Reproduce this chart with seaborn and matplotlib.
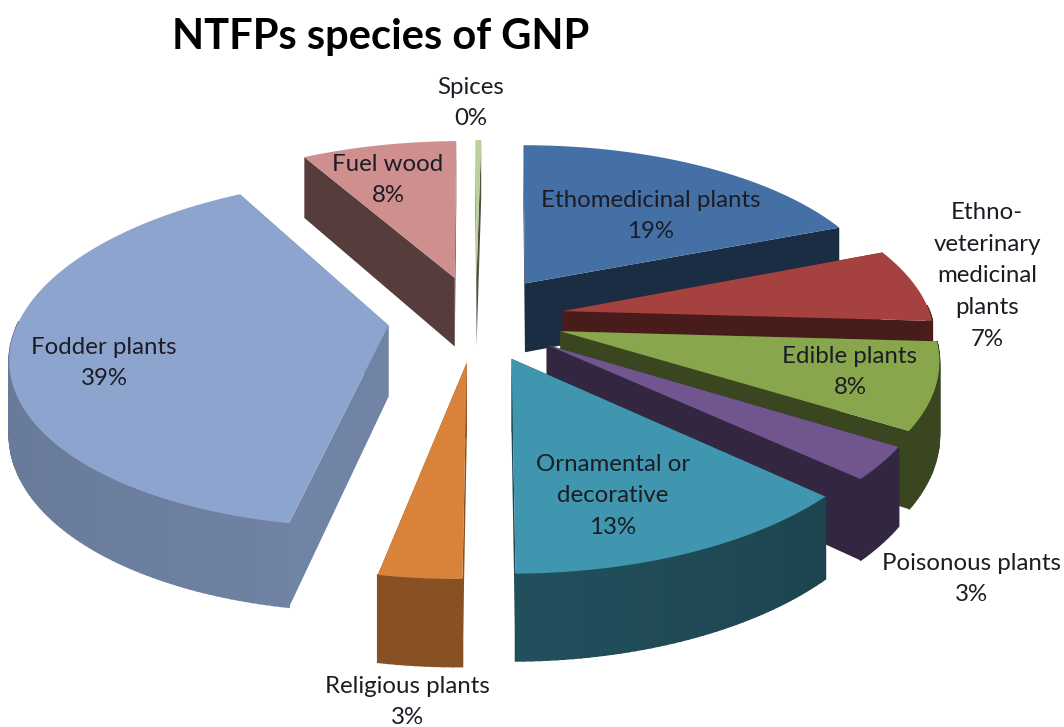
import numpy as np
import matplotlib
matplotlib.use("Agg")
import matplotlib.pyplot as plt
from matplotlib.patches import Polygon
import seaborn as sns

# Species groups, clockwise from twelve o'clock
categories = ["Ethomedicinal plants", "Ethno-\nveterinary\nmedicinal\nplants", "Edible plants",
              "Poisonous plants", "Ornamental or\ndecorative", "Religious plants",
              "Fodder plants", "Fuel wood", "Spices"]
shares = [19, 7, 8, 3, 13, 3, 39, 8, 0.3]
top_hex = ["#4470a6", "#a5423f", "#88a64c", "#70558f", "#3f96ae", "#d9833a",
           "#8da5ce", "#cf8f8e", "#bdd09a"]
title_text = "NTFPs species of GNP"

# Label anchors in canvas pixels (centre of the text block)
label_xy = [(651, 216), (987, 276), (850, 372), (972, 579), (613, 496),
            (407, 702), (104, 363), (388, 180), (471, 103)]

sns.set_theme(style="white")
plt.rcParams["font.family"] = ["Lato", "DejaVu Sans"]

W, H_PX = 1064, 727
fig = plt.figure(figsize=(W / 100, H_PX / 100), dpi=100)
ax = fig.add_axes([0, 0, 1, 1])
ax.set_xlim(0, W)
ax.set_ylim(H_PX, 0)
ax.set_axis_off()
sns.despine(ax=ax, left=True, bottom=True)

# Perspective camera over the pie's top plane; the pie sits slightly left of its axis
CAM_X, HORIZON, CAM_H, DEPTH = 513.0, -800.0, 1118.0, 2286.0
PIE_OFFSET = -37.0
RADIUS_X, RADIUS_Y, EXPLODE, THICK = 369.0, 345.0, 88.0, 71.0


def project(gx, gy, z=0.0):
    s = DEPTH / (DEPTH + gy)
    return CAM_X + (gx + PIE_OFFSET) * s, HORIZON + (CAM_H + z) * s


def shade(rgb, f):
    return tuple(min(1.0, c * f) for c in rgb)


palette = sns.color_palette(top_hex)
total = sum(shares)
edges = np.concatenate([[0.0], np.cumsum(shares)]) / total * 2 * np.pi

slices = []
for i, col in enumerate(palette):
    a0, a1 = edges[i], edges[i + 1]
    mid = 0.5 * (a0 + a1)
    slices.append((EXPLODE * np.cos(mid), i, a0, a1, mid, col))
slices.sort(key=lambda t: -t[0])  # far slices first

radial_f = [0.40, 0.43, 0.42, 0.45, 0.45, 0.62, 0.80, 0.42, 0.4]
rim_f = [0.45, 0.45, 0.42, 0.45, 0.53, 0.62, 0.80, 0.45, 0.4]
for _, i, a0, a1, mid, col in slices:
    ox, oy = EXPLODE * np.sin(mid), EXPLODE * np.cos(mid)
    n = max(3, int((a1 - a0) / np.radians(1.0)))
    ang = np.linspace(a0, a1, n)
    rimx = ox + RADIUS_X * np.sin(ang)
    rimy = oy + RADIUS_Y * np.cos(ang)

    # radial side walls
    for ex, ey in ((rimx[0], rimy[0]), (rimx[-1], rimy[-1])):
        wall = [project(ox, oy), project(ex, ey), project(ex, ey, THICK), project(ox, oy, THICK)]
        ax.add_patch(Polygon(wall, closed=True, fc=shade(col, radial_f[i]), ec="none", zorder=1))

    # curved outer wall, only the strips that face the viewer
    for k in range(n - 1):
        t = 0.5 * (ang[k] + ang[k + 1])
        if np.cos(t) > 0.03:
            continue
        f = rim_f[i]
        if i == 4:
            f -= 0.09 * (np.pi - t)  # darkens towards the right end
        if i == 6:
            f += 0.06 * np.sin(t)
        q = [project(rimx[k], rimy[k]), project(rimx[k + 1], rimy[k + 1]),
             project(rimx[k + 1], rimy[k + 1], THICK), project(rimx[k], rimy[k], THICK)]
        c = shade(col, f)
        ax.add_patch(Polygon(q, closed=True, fc=c, ec=c, lw=1.2, zorder=1))

    # top face
    top = [project(ox, oy)] + [project(x, y) for x, y in zip(rimx, rimy)]
    ax.add_patch(Polygon(top, closed=True, fc=col, ec="none", zorder=1))

for name, value, (lx, ly) in zip(categories, shares, label_xy):
    ax.text(lx, ly, f"{name}\n{round(value / total * 100)}%", ha="center", va="center",
            fontsize=17.3, color="#1c1c24", linespacing=1.62, zorder=5)

ax.text(381, 37, title_text, ha="center", va="center", fontsize=30, fontweight="bold",
        color="black", zorder=5)

fig.savefig("out.png", dpi=100, facecolor="white")
